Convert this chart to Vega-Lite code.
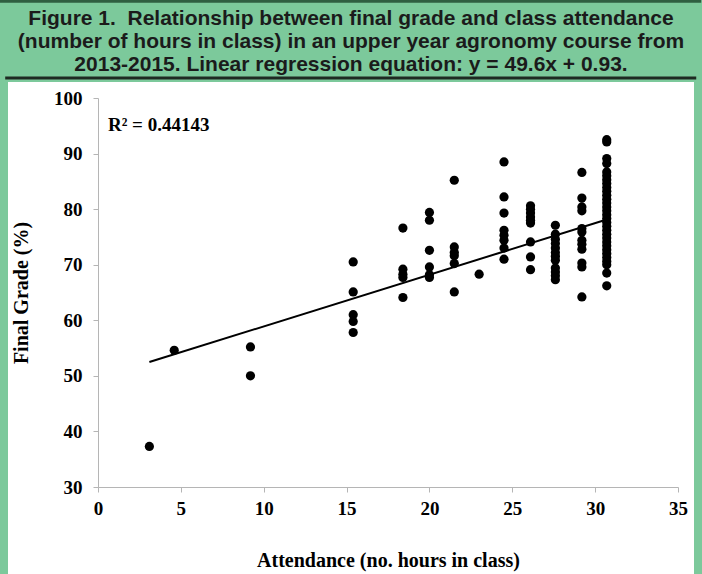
{
  "$schema": "https://vega.github.io/schema/vega-lite/v6.json",
  "width": 686,
  "height": 492,
  "autosize": {"type": "none"},
  "padding": {"left": 8, "top": 82, "right": 8, "bottom": 0},
  "background": "#7cc99b",
  "title": {
    "text": ["Figure 1.\u00a0 Relationship between final grade and class attendance", "(number of hours in class) in an upper year agronomy course from", "2013-2015. Linear regression equation: y = 49.6x + 0.93."],
    "font": "Liberation Sans",
    "fontSize": 21,
    "fontWeight": "bold",
    "color": "#1b1b1b",
    "lineHeight": 23,
    "anchor": "middle",
    "frame": "group",
    "offset": -75
  },
  "config": {
    "view": {"fill": "white", "stroke": null},
    "axis": {"grid": false, "labelFont": "Liberation Serif", "labelFontWeight": "bold", "labelFontSize": 19, "labelColor": "black", "titleFont": "Liberation Serif", "titleFontWeight": "bold", "titleColor": "black", "domainColor": "#b5b5b5", "tickColor": "#b5b5b5", "tickSize": 5}
  },
  "datasets": {
    "pts": [
      {"hours": 3.1, "grade": 37.3},
      {"hours": 4.6, "grade": 54.6},
      {"hours": 9.2, "grade": 55.2}, {"hours": 9.2, "grade": 50.0},
      {"hours": 15.4, "grade": 70.5}, {"hours": 15.4, "grade": 65.1}, {"hours": 15.4, "grade": 61.0}, {"hours": 15.4, "grade": 59.8}, {"hours": 15.4, "grade": 57.8},
      {"hours": 18.4, "grade": 76.6}, {"hours": 18.4, "grade": 69.2}, {"hours": 18.4, "grade": 68.3}, {"hours": 18.4, "grade": 67.7}, {"hours": 18.4, "grade": 64.1},
      {"hours": 20.0, "grade": 79.4}, {"hours": 20.0, "grade": 78.0}, {"hours": 20.0, "grade": 72.6}, {"hours": 20.0, "grade": 69.6}, {"hours": 20.0, "grade": 68.2}, {"hours": 20.0, "grade": 67.7},
      {"hours": 21.5, "grade": 85.2}, {"hours": 21.5, "grade": 73.2}, {"hours": 21.5, "grade": 72.2}, {"hours": 21.5, "grade": 71.6}, {"hours": 21.5, "grade": 70.2}, {"hours": 21.5, "grade": 65.1},
      {"hours": 23.0, "grade": 68.3},
      {"hours": 24.5, "grade": 88.5}, {"hours": 24.5, "grade": 82.2}, {"hours": 24.5, "grade": 79.3}, {"hours": 24.5, "grade": 76.2}, {"hours": 24.5, "grade": 75.3}, {"hours": 24.5, "grade": 74.4}, {"hours": 24.5, "grade": 73.0}, {"hours": 24.5, "grade": 71.0},
      {"hours": 26.1, "grade": 80.6}, {"hours": 26.1, "grade": 80.0}, {"hours": 26.1, "grade": 79.3}, {"hours": 26.1, "grade": 78.6}, {"hours": 26.1, "grade": 78.0}, {"hours": 26.1, "grade": 77.5}, {"hours": 26.1, "grade": 74.1}, {"hours": 26.1, "grade": 71.4}, {"hours": 26.1, "grade": 69.1},
      {"hours": 27.6, "grade": 77.1}, {"hours": 27.6, "grade": 75.5}, {"hours": 27.6, "grade": 74.6}, {"hours": 27.6, "grade": 73.8}, {"hours": 27.6, "grade": 73.0}, {"hours": 27.6, "grade": 72.2}, {"hours": 27.6, "grade": 71.5}, {"hours": 27.6, "grade": 70.8}, {"hours": 27.6, "grade": 69.4}, {"hours": 27.6, "grade": 68.7}, {"hours": 27.6, "grade": 68.0}, {"hours": 27.6, "grade": 67.3},
      {"hours": 29.2, "grade": 86.6}, {"hours": 29.2, "grade": 82.0}, {"hours": 29.2, "grade": 80.4}, {"hours": 29.2, "grade": 79.7}, {"hours": 29.2, "grade": 76.5}, {"hours": 29.2, "grade": 75.9}, {"hours": 29.2, "grade": 74.4}, {"hours": 29.2, "grade": 73.7}, {"hours": 29.2, "grade": 72.8}, {"hours": 29.2, "grade": 70.3}, {"hours": 29.2, "grade": 69.6}, {"hours": 29.2, "grade": 64.2},
      {"hours": 30.7, "grade": 92.5}, {"hours": 30.7, "grade": 92.1}, {"hours": 30.7, "grade": 89.1}, {"hours": 30.7, "grade": 88.2}, {"hours": 30.7, "grade": 86.7}, {"hours": 30.7, "grade": 86.0}, {"hours": 30.7, "grade": 85.3}, {"hours": 30.7, "grade": 84.6}, {"hours": 30.7, "grade": 83.9}, {"hours": 30.7, "grade": 83.2}, {"hours": 30.7, "grade": 82.5}, {"hours": 30.7, "grade": 81.8}, {"hours": 30.7, "grade": 81.1}, {"hours": 30.7, "grade": 80.4}, {"hours": 30.7, "grade": 79.7}, {"hours": 30.7, "grade": 79.0}, {"hours": 30.7, "grade": 78.3}, {"hours": 30.7, "grade": 77.6}, {"hours": 30.7, "grade": 76.9}, {"hours": 30.7, "grade": 76.2}, {"hours": 30.7, "grade": 75.5}, {"hours": 30.7, "grade": 74.8}, {"hours": 30.7, "grade": 74.1}, {"hours": 30.7, "grade": 73.4}, {"hours": 30.7, "grade": 72.7}, {"hours": 30.7, "grade": 72.0}, {"hours": 30.7, "grade": 71.3}, {"hours": 30.7, "grade": 70.6}, {"hours": 30.7, "grade": 70.0}, {"hours": 30.7, "grade": 68.5}, {"hours": 30.7, "grade": 66.2}
    ],
    "fit": [
      {"hours": 3.1, "grade": 52.48},
      {"hours": 30.7, "grade": 78.15}
    ],
    "note": [
      {"hours": 0.6, "grade": 94.1, "label": "R² = 0.44143"}
    ],
    "frame": [
      {"x0": -5.6, "x1": 36.1, "yv": 103.6, "tone": "under"},
      {"x0": -6.0, "x1": 36.4, "yv": 117.4, "tone": "top"}
    ]
  },
  "layer": [
    {
      "data": {"name": "pts"},
      "mark": {"type": "circle", "size": 85, "color": "black", "opacity": 1},
      "encoding": {
        "x": {"field": "hours", "type": "quantitative",
          "scale": {"domain": [0, 35], "range": [90, 670], "nice": false, "zero": false},
          "axis": {"title": "Attendance (no. hours in class)", "titleFontSize": 20, "titlePadding": 32, "values": [0, 5, 10, 15, 20, 25, 30, 35], "offset": -87, "labelFlush": false, "labelPadding": 7}},
        "y": {"field": "grade", "type": "quantitative",
          "scale": {"domain": [30, 100], "range": [405, 16], "nice": false, "zero": false},
          "axis": {"title": "Final Grade (%)", "titleFontSize": 20, "titlePadding": 22, "values": [30, 40, 50, 60, 70, 80, 90, 100], "offset": -90, "labelPadding": 11}}
      }
    },
    {
      "data": {"name": "fit"},
      "mark": {"type": "line", "color": "black", "strokeWidth": 2},
      "encoding": {
        "x": {"field": "hours", "type": "quantitative"},
        "y": {"field": "grade", "type": "quantitative"}
      }
    },
    {
      "data": {"name": "note"},
      "mark": {"type": "text", "align": "left", "baseline": "alphabetic", "font": "Liberation Serif", "fontWeight": "bold", "fontSize": 19, "color": "black"},
      "encoding": {
        "x": {"field": "hours", "type": "quantitative"},
        "y": {"field": "grade", "type": "quantitative"},
        "text": {"field": "label"}
      }
    },
    {
      "data": {"name": "frame"},
      "mark": {"type": "rule", "clip": false, "strokeWidth": 3},
      "encoding": {
        "x": {"field": "x0", "type": "quantitative"},
        "x2": {"field": "x1"},
        "y": {"field": "yv", "type": "quantitative"},
        "color": {"field": "tone", "type": "nominal", "scale": {"domain": ["under", "top"], "range": ["#1e2a22", "#2f5e41"]}, "legend": null}
      }
    }
  ]
}
